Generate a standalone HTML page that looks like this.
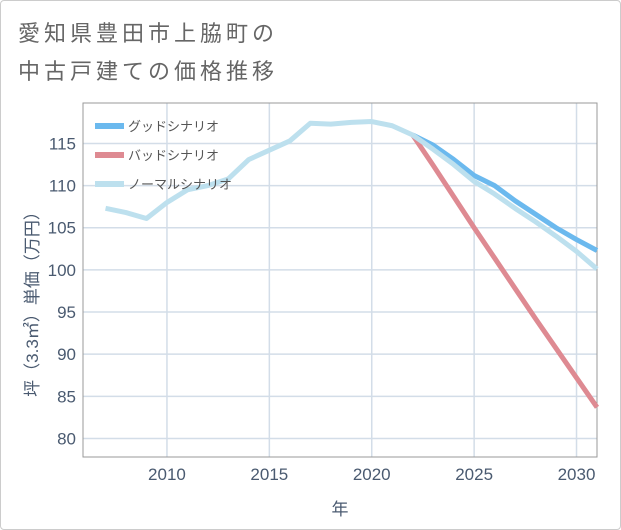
<!DOCTYPE html>
<html><head><meta charset="utf-8"><style>
body{margin:0;background:#fff;}
#card{position:absolute;left:0;top:0;width:619px;height:528px;border:1px solid #ccc;border-radius:4px;background:#fff;}
.t{position:absolute;left:17px;font:22px "Liberation Sans","Noto Sans CJK JP",sans-serif;color:#666;letter-spacing:4px;}
</style></head><body>
<div id="card">
<div class="t" style="top:15px">愛知県豊田市上脇町の</div>
<div class="t" style="top:53px">中古戸建ての価格推移</div>
</div>
<svg id="c" width="621" height="530" style="position:absolute;left:0;top:0" font-family="Liberation Sans, Noto Sans CJK JP, sans-serif"></svg>
<script>
const years=[2007,2008,2009,2010,2011,2012,2013,2014,2015,2016,2017,2018,2019,2020,2021,2022,2023,2024,2025,2026,2027,2028,2029,2030,2031];
const normal=[107.3,106.8,106.1,108.0,109.5,110.0,110.8,113.1,114.2,115.3,117.4,117.3,117.5,117.6,117.1,116.0,114.3,112.5,110.5,109.0,107.3,105.7,104.0,102.2,100.1];
const goodYears=[2022,2023,2024,2025,2026,2027,2028,2029,2030,2031];
const good=[116.0,114.8,113.1,111.2,110.0,108.2,106.6,105.0,103.6,102.3];
const bad=[116.0,112.4,108.7,105.0,101.4,97.8,94.2,90.7,87.2,83.7];
const xTicks=[2010,2015,2020,2025,2030];
const yTicks=[80,85,90,95,100,105,110,115];
const L=83,R=597,T=103,B=457,x0=2005.9,x1=2031.0,y0=77.8,y1=119.8;
const X=v=>L+(v-x0)/(x1-x0)*(R-L), Y=v=>B-(v-y0)/(y1-y0)*(B-T);
const svg=document.getElementById('c'),NS='http://www.w3.org/2000/svg';
function mk(t,a,p){const e=document.createElementNS(NS,t);for(const k in a)e.setAttribute(k,a[k]);(p||svg).appendChild(e);return e;}
for(const v of yTicks){
const l=mk('line',{x1:L,x2:R,y1:Y(v),y2:Y(v),stroke:'#d3dde8','stroke-width':1.5});


const t=mk('text',{x:76,y:Y(v)+6,'text-anchor':'end','font-size':17,fill:'#4a5a70'});t.textContent=v;


}
for(const v of xTicks){
const l=mk('line',{x1:X(v),x2:X(v),y1:T,y2:B,stroke:'#d3dde8','stroke-width':1.5});


const t=mk('text',{x:X(v),y:480,'text-anchor':'middle','font-size':17,fill:'#4a5a70'});t.textContent=v;


}
const fr=mk('rect',{x:L,y:T,width:R-L,height:B-T,fill:'none',stroke:'#999','stroke-width':1});


function line(xs,ys,c,name){const p=mk('polyline',{points:xs.map((x,i)=>X(x)+','+Y(ys[i])).join(' '),fill:'none',stroke:c,'stroke-width':5,'stroke-linejoin':'round'});

}
line(goodYears,bad,'#de8a92','bad-scenario-line');
line(goodYears,good,'#6bb9ee','good-scenario-line');
line(years,normal,'#bde0ee','normal-scenario-line');
const lg=[['グッドシナリオ','#6bb9ee'],['バッドシナリオ','#de8a92'],['ノーマルシナリオ','#bde0ee']];
lg.forEach((d,i)=>{const y=126+i*29;
const r=mk('rect',{x:95,y:y-3,width:29,height:6,fill:d[1]});


const t=mk('text',{x:128,y:y+5,'font-size':13,fill:'#555'});t.textContent=d[0];

});
const yt=mk('text',{transform:'translate(38,300) rotate(-90)','text-anchor':'middle','font-size':17,fill:'#4a5a70'});yt.textContent='坪（3.3㎡）単価（万円）';


const xt=mk('text',{x:340,y:515,'text-anchor':'middle','font-size':17,fill:'#4a5a70'});xt.textContent='年';


</script>
</body></html>
